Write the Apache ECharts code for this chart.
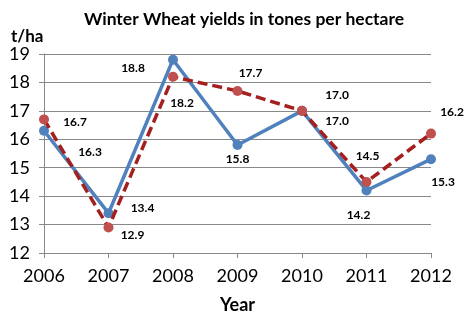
<!DOCTYPE html>
<html><head><meta charset="utf-8">
<script src="https://cdn.jsdelivr.net/npm/echarts@6/dist/echarts.min.js"></script>
<style>html,body{margin:0;padding:0;background:#fff}#c{width:470px;height:329px}</style>
</head><body><div id="c"></div>
<script>
const years = ['2006','2007','2008','2009','2010','2011','2012'];
const seriesA = [16.3, 13.4, 18.8, 15.8, 17.0, 14.2, 15.3];
const seriesB = [16.7, 12.9, 18.2, 17.7, 17.0, 14.5, 16.2];
const yTicks = {min: 12, max: 19, interval: 1};

// label offsets (style only)
const offA = [[46,21],[34,-5],[-40,8],[0,14],[35,10],[-8,25],[12,23]];
const offB = [[31,3],[24,8],[9,26],[13,-18],[35,-16],[1,-26],[21,-21]];

const F = 'Lato, "Open Sans", sans-serif';
function mk(vals, offs) {
  return vals.map((v,i)=>({value:v, label:{offset:offs[i]}}));
}
const chart = echarts.init(document.getElementById('c'), null, {renderer:'canvas'});
chart.setOption({
  animation:false,
  title:[
    {text:'Winter Wheat yields in tones per hectare', left:239, textAlign:'center', top:5,
     textStyle:{fontFamily:F, fontWeight:'bold', fontSize:17.5, color:'#000'}},
    {text:'t/ha', left:6, top:23, textStyle:{fontFamily:F, fontWeight:'bold', fontSize:17, color:'#000'}}
  ],
  grid:{left:44, right:39, top:54, bottom:76},
  xAxis:{type:'category', data:years, boundaryGap:false,
    name:'Year', nameLocation:'middle', nameGap:43,
    nameTextStyle:{fontFamily:F, fontWeight:'bold', fontSize:18, color:'#000'},
    axisLine:{lineStyle:{color:'#888', width:1}},
    axisTick:{show:true, length:5, inside:false, alignWithLabel:true, lineStyle:{color:'#888'}},
    axisLabel:{fontFamily:F, fontSize:18, color:'#000', margin:14}},
  yAxis:{type:'value', min:yTicks.min, max:yTicks.max, interval:yTicks.interval,
    axisLine:{show:true, lineStyle:{color:'#888'}},
    axisTick:{show:true, length:5, lineStyle:{color:'#888'}},
    splitLine:{lineStyle:{color:'#888', width:1}},
    axisLabel:{fontFamily:F, fontSize:18, color:'#000', margin:14}},
  series:[
    {type:'line', data:mk(seriesA, offA), symbol:'circle', symbolSize:10,
     lineStyle:{color:'#4f81bd', width:3.5}, itemStyle:{color:'#4f81bd'},
     label:{show:true, position:'inside', fontFamily:F, fontWeight:'bold', fontSize:12, color:'#000',
       formatter:p=>p.value.toFixed(1)}, z:3},
    {type:'line', data:mk(seriesB, offB), symbol:'circle', symbolSize:10,
     lineStyle:{color:'#a3201f', width:3.5, type:[10,5]}, itemStyle:{color:'#c0504d'},
     label:{show:true, position:'inside', fontFamily:F, fontWeight:'bold', fontSize:12, color:'#000',
       formatter:p=>p.value.toFixed(1)}, z:4}
  ]
});
</script></body></html>
